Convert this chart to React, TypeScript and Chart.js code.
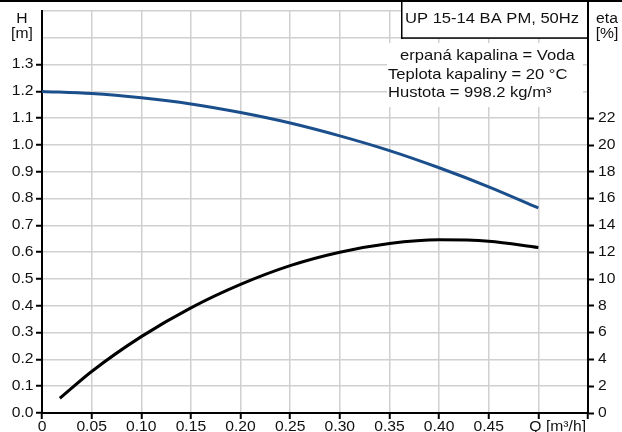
import React, { useEffect, useRef } from "react";
import { Chart, registerables } from "chart.js";

Chart.register(...registerables);

// Flow Q [m³/h]
const headQ = [0, 0.05, 0.1, 0.15, 0.2, 0.25, 0.3, 0.35, 0.4, 0.45, 0.5];
// Head H [m]
const headH = [1.2, 1.192, 1.176, 1.153, 1.121, 1.082, 1.034, 0.979, 0.915, 0.844, 0.765];
// Efficiency curve eta [%]
const etaQ = [0.018, 0.05, 0.1, 0.15, 0.2, 0.25, 0.3, 0.35, 0.4, 0.45, 0.5];
const etaVals = [1.1, 3.1, 5.7, 7.85, 9.6, 11.0, 12.0, 12.65, 12.93, 12.82, 12.35];

const xTickValues = [0, 0.05, 0.1, 0.15, 0.2, 0.25, 0.3, 0.35, 0.4, 0.45, 0.5, 0.55];
const xTickLabels = ["0", "0.05", "0.10", "0.15", "0.20", "0.25", "0.30", "0.35", "0.40", "0.45", "Q [m³/h]", ""];
const hTickValues = [0, 0.1, 0.2, 0.3, 0.4, 0.5, 0.6, 0.7, 0.8, 0.9, 1.0, 1.1, 1.2, 1.3, 1.4, 1.5];
const hTickLabels = ["0.0", "0.1", "0.2", "0.3", "0.4", "0.5", "0.6", "0.7", "0.8", "0.9", "1.0", "1.1", "1.2", "1.3", "", ""];
const etaTickValues = [0, 2, 4, 6, 8, 10, 12, 14, 16, 18, 20, 22, 24, 26, 28, 30];
const etaTickLabels = ["0", "2", "4", "6", "8", "10", "12", "14", "16", "18", "20", "22", "", "", "", ""];

const boxTitle = "UP 15-14 BA PM, 50Hz";
const infoLines = ["erpaná kapalina = Voda", "Teplota kapaliny = 20 °C", "Hustota = 998.2 kg/m³"];

const FONT = "'Liberation Sans', Arial, sans-serif";
const SX = 1.12;
const TXT = "#111";

function drawText(ctx: CanvasRenderingContext2D, t: string, x: number, y: number, align: CanvasTextAlign, size: number, base: CanvasTextBaseline = "middle") {
  if (!t) return;
  ctx.save();
  ctx.translate(x, y);
  ctx.scale(SX, 1);
  ctx.font = `${size}px ${FONT}`;
  ctx.textAlign = align;
  ctx.textBaseline = base;
  ctx.fillStyle = TXT;
  ctx.fillText(t, 0, 0);
  ctx.restore();
}

const overlay = {
  id: "overlay",
  afterDraw(chart: any) {
    const ctx = chart.ctx as CanvasRenderingContext2D;
    const area = chart.chartArea;
    const sx = chart.scales.x;
    const sy = chart.scales.y;
    const sy2 = chart.scales.y2;
    ctx.save();
    // tick labels
    xTickValues.forEach((v, i) => {
      const lbl = xTickLabels[i];
      const px = sx.getPixelForValue(v);
      if (lbl.startsWith("Q")) drawText(ctx, lbl, px - 9, area.bottom + 7, "left", 14, "top");
      else drawText(ctx, lbl, px, area.bottom + 7, "center", 14, "top");
    });
    hTickValues.forEach((v, i) => drawText(ctx, hTickLabels[i], area.left - 8.5, sy.getPixelForValue(v), "right", 14));
    etaTickValues.forEach((v, i) => drawText(ctx, etaTickLabels[i], area.right + 10, sy2.getPixelForValue(v), "left", 14));

    ctx.fillStyle = "#000";
    // top frame line
    ctx.fillRect(0, 0, 622, 2);
    // right axis extension to top
    ctx.fillRect(area.right - 1, 0, 2, area.top);
    // title box
    const y14 = sy.getPixelForValue(1.4);
    const bx = 402;
    ctx.fillStyle = "#fff";
    ctx.fillRect(bx, 2, area.right - 1 - bx, y14 - 2);
    ctx.fillStyle = "#000";
    ctx.fillRect(bx - 1, 0, 1.5, y14 + 1);
    ctx.fillRect(bx - 1, y14 - 0.5, area.right - bx, 1.5);
    drawText(ctx, boxTitle, 405, 19, "left", 14.8);
    // info block
    ctx.fillStyle = "#fff";
    ctx.fillRect(387, 43, 196, 64);
    drawText(ctx, infoLines[0], 400, 56, "left", 14.8);
    drawText(ctx, infoLines[1], 388, 75, "left", 14.8);
    drawText(ctx, infoLines[2], 388, 93, "left", 14.8);
    // axis titles
    drawText(ctx, "H", 22, 19, "center", 14);
    drawText(ctx, "[m]", 22, 34, "center", 14);
    drawText(ctx, "eta", 607, 19, "center", 14);
    drawText(ctx, "[%]", 607, 34, "center", 14);
    ctx.restore();
  },
};

export default function App() {
  const ref = useRef<HTMLCanvasElement>(null);
  useEffect(() => {
    const canvas = ref.current!;
    const chart = new Chart(canvas, {
      type: "line",
      data: {
        datasets: [
          {
            label: "H",
            data: headQ.map((q, i) => ({ x: q, y: headH[i] })),
            borderColor: "#1b4f8c",
            borderWidth: 3,
            pointRadius: 0,
            cubicInterpolationMode: "monotone",
            yAxisID: "y",
            xAxisID: "x",
          },
          {
            label: "eta",
            data: etaQ.map((q, i) => ({ x: q, y: etaVals[i] })),
            borderColor: "#000000",
            borderWidth: 3,
            pointRadius: 0,
            cubicInterpolationMode: "monotone",
            yAxisID: "y2",
            xAxisID: "x",
          },
        ],
      },
      plugins: [overlay],
      options: {
        animation: false,
        responsive: false,
        devicePixelRatio: 1,
        layout: { padding: { top: 11, left: 0, right: 0, bottom: 0 } },
        plugins: { legend: { display: false }, tooltip: { enabled: false } },
        scales: {
          x: {
            type: "linear",
            min: 0,
            max: 0.55,
            afterBuildTicks: (s: any) => {
              s.ticks = xTickValues.map((v) => ({ value: v }));
            },
            ticks: { display: false, autoSkip: false },
            grid: { color: "#d0d0d0", lineWidth: 1.5, tickColor: "#000", tickWidth: 2, tickLength: 6 },
            border: { color: "#000", width: 2 },
            afterFit: (s: any) => {
              s.height = 19;
              s.paddingLeft = 0;
              s.paddingRight = 0;
            },
          },
          y: {
            type: "linear",
            position: "left",
            min: 0,
            max: 1.5,
            afterBuildTicks: (s: any) => {
              s.ticks = hTickValues.map((v) => ({ value: v }));
            },
            ticks: { display: false, autoSkip: false },
            grid: {
              color: "#d0d0d0",
              lineWidth: 1.5,
              tickColor: (c: any) => (c.tick && c.tick.value > 1.35 ? "rgba(0,0,0,0)" : "#000"),
              tickWidth: 2,
              tickLength: 6,
            },
            border: { color: "#000", width: 2 },
            afterFit: (s: any) => {
              s.width = 42;
              s.paddingTop = 0;
              s.paddingBottom = 0;
            },
          },
          y2: {
            type: "linear",
            position: "right",
            min: 0,
            max: 30,
            afterBuildTicks: (s: any) => {
              s.ticks = etaTickValues.map((v) => ({ value: v }));
            },
            ticks: { display: false, autoSkip: false },
            grid: {
              drawOnChartArea: false,
              tickColor: (c: any) => (c.tick && c.tick.value > 22 ? "rgba(0,0,0,0)" : "#000"),
              tickWidth: 2,
              tickLength: 6,
            },
            border: { color: "#000", width: 2 },
            afterFit: (s: any) => {
              s.width = 34;
              s.paddingTop = 0;
              s.paddingBottom = 0;
            },
          },
        },
      },
    } as any);
    return () => chart.destroy();
  }, []);
  return (
    <div style={{ position: "fixed", left: 0, top: 0, width: 622, height: 432, background: "#fff" }}>
      <canvas ref={ref} width={622} height={432} style={{ display: "block" }} />
    </div>
  );
}
